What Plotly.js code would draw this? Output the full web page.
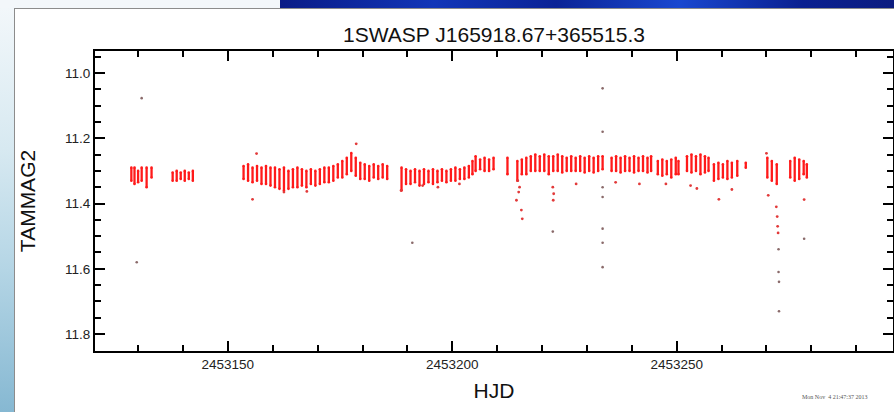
<!DOCTYPE html>
<html>
<head>
<meta charset="utf-8">
<script src="https://cdn.plot.ly/plotly-3.0.1.min.js"></script>
<style>
  html, body { margin: 0; padding: 0; width: 894px; height: 412px; overflow: hidden; background: #f3f7fa; }
  #topdark { position: absolute; left: 280px; top: 0; width: 614px; height: 8px;
    background: linear-gradient(90deg, #0a1c86 0%, #1236b8 25%, #0b2396 45%, #1a48d0 65%, #0a2090 85%, #0c1c80 100%); }
  #leftstrip { position: absolute; left: 0; top: 8px; width: 14px; height: 404px;
    background: linear-gradient(180deg, #f2f7fa 0%, #d7e9f1 35%, #b4d5e5 65%, #86b8d2 100%); }
  #panel { position: absolute; left: 14px; top: 8px; width: 890px; height: 410px; background: #fff;
    border-left: 1px solid #8c8c8c; border-top: 1px solid #8c8c8c; box-sizing: border-box; }
  #chart { position: absolute; left: 0; top: 0; width: 894px; height: 412px; }
</style>
</head>
<body>
<div id="topdark"></div>
<div id="leftstrip"></div>
<div id="panel"></div>
<div id="chart"></div>
<script>
// ---- nightly strands: HJD, brightest (top) and faintest (bottom) TAMMAG2 ----
const nightHJD = [
  2453128.5, 2453129.2, 2453130.0, 2453130.8, 2453131.9, 2453133.0,
  2453137.7, 2453138.6, 2453139.5, 2453140.4, 2453141.3, 2453142.2,
  2453153.5, 2453154.5, 2453155.5, 2453156.5, 2453157.5, 2453158.5, 2453159.5, 2453160.5,
  2453161.5, 2453162.5, 2453163.5, 2453164.5, 2453165.5, 2453166.5, 2453167.5, 2453168.5,
  2453169.5, 2453170.5, 2453171.5, 2453172.5, 2453173.5, 2453174.5, 2453175.5, 2453176.5,
  2453177.5, 2453178.5, 2453179.5, 2453180.5, 2453181.5, 2453182.5, 2453183.5, 2453184.5, 2453185.5,
  2453188.7, 2453189.7, 2453190.7, 2453191.7, 2453192.7, 2453193.7, 2453194.7, 2453195.7,
  2453196.7, 2453197.7, 2453198.7, 2453199.7, 2453200.7, 2453201.7, 2453202.7, 2453203.7, 2453204.5,
  2453205.2, 2453206.2, 2453207.2, 2453208.2, 2453209.2,
  2453212.3,
  2453214.5, 2453215.5, 2453216.5, 2453217.5, 2453218.5, 2453219.5, 2453220.5, 2453221.5,
  2453222.5, 2453223.5, 2453224.5, 2453225.5, 2453226.5, 2453227.5, 2453228.5, 2453229.5,
  2453230.5, 2453231.5, 2453232.5, 2453233.5,
  2453235.5, 2453236.5, 2453237.5, 2453238.5, 2453239.5, 2453240.5, 2453241.5, 2453242.5, 2453243.5, 2453244.3,
  2453245.8, 2453246.8, 2453247.8, 2453248.8, 2453249.8, 2453250.4,
  2453252.3, 2453253.3, 2453254.3, 2453255.3, 2453256.3, 2453257.1,
  2453258.3, 2453259.3, 2453260.3, 2453261.3, 2453262.3, 2453263.5,
  2453265.4,
  2453270.2, 2453271.2, 2453272.3,
  2453275.3, 2453276.3, 2453277.3, 2453278.3, 2453279.0
];
const nightMagTop = [
  11.29, 11.29, 11.30, 11.29, 11.29, 11.29,
  11.305, 11.30, 11.305, 11.30, 11.305, 11.30,
  11.285, 11.28, 11.29, 11.285, 11.29, 11.285, 11.29, 11.29,
  11.295, 11.29, 11.30, 11.295, 11.29, 11.295, 11.30, 11.295,
  11.30, 11.295, 11.29, 11.29, 11.285, 11.28, 11.27, 11.26,
  11.245, 11.26, 11.275, 11.28, 11.285, 11.28, 11.285, 11.28, 11.285,
  11.29, 11.295, 11.30, 11.295, 11.30, 11.295, 11.30, 11.295,
  11.30, 11.295, 11.30, 11.295, 11.29, 11.295, 11.29, 11.285, 11.27,
  11.255, 11.265, 11.26, 11.265, 11.26,
  11.26,
  11.27, 11.265, 11.26, 11.255, 11.25, 11.255, 11.25, 11.255,
  11.255, 11.25, 11.255, 11.26, 11.255, 11.26, 11.255, 11.26,
  11.255, 11.26, 11.255, 11.255,
  11.26, 11.255, 11.26, 11.255, 11.26, 11.255, 11.26, 11.255, 11.26, 11.255,
  11.27, 11.265, 11.27, 11.265, 11.26, 11.27,
  11.255, 11.25, 11.255, 11.25, 11.255, 11.26,
  11.28, 11.275, 11.28, 11.27, 11.275, 11.27,
  11.275,
  11.26, 11.27, 11.28,
  11.27, 11.26, 11.265, 11.27, 11.28
];
const nightMagBottom = [
  11.33, 11.34, 11.335, 11.33, 11.35, 11.32,
  11.33, 11.33, 11.325, 11.33, 11.325, 11.33,
  11.325, 11.33, 11.335, 11.33, 11.34, 11.34, 11.345, 11.35,
  11.355, 11.36, 11.355, 11.35, 11.35, 11.345, 11.35, 11.34,
  11.345, 11.34, 11.335, 11.335, 11.33, 11.32, 11.32, 11.31,
  11.30, 11.315, 11.325, 11.325, 11.33, 11.32, 11.325, 11.32, 11.325,
  11.36, 11.34, 11.34, 11.335, 11.345, 11.34, 11.335, 11.34,
  11.335, 11.33, 11.335, 11.33, 11.33, 11.325, 11.325, 11.32, 11.31,
  11.30, 11.295, 11.30, 11.30, 11.295,
  11.31,
  11.33, 11.31, 11.31, 11.30, 11.30, 11.30, 11.30, 11.31,
  11.30, 11.30, 11.305, 11.30, 11.30, 11.30, 11.30, 11.305,
  11.30, 11.305, 11.30, 11.295,
  11.30, 11.30, 11.305, 11.30, 11.30, 11.305, 11.30, 11.30, 11.305, 11.30,
  11.31, 11.315, 11.31, 11.32, 11.31, 11.31,
  11.30, 11.305, 11.30, 11.31, 11.305, 11.30,
  11.33, 11.325, 11.32, 11.325, 11.32, 11.315,
  11.29,
  11.32, 11.33, 11.34,
  11.32, 11.33, 11.325, 11.31, 11.32
];

// ---- scattered red points off the nightly strands ----
const redDotHJD = [
  2453156.4, 2453155.5, 2453162.5, 2453167.6, 2453178.6,
  2453188.6, 2453193.4, 2453196.8, 2453201.6,
  2453214.6, 2453215.0, 2453214.8, 2453214.3, 2453215.4, 2453215.6,
  2453222.4, 2453222.6, 2453222.5,
  2453227.6, 2453236.4, 2453241.7, 2453247.6,
  2453253.1, 2453254.5, 2453259.4, 2453262.3,
  2453270.0, 2453270.4, 2453272.2, 2453272.4, 2453272.5, 2453272.6,
  2453278.4
];
const redDotMag = [
  11.247, 11.387, 11.365, 11.363, 11.217,
  11.36, 11.345, 11.35, 11.34,
  11.33, 11.35, 11.365, 11.39, 11.42, 11.447,
  11.35, 11.37, 11.39,
  11.34, 11.335, 11.34, 11.34,
  11.345, 11.354, 11.387, 11.357,
  11.246, 11.375, 11.41, 11.44, 11.47, 11.49,
  11.388
];

// ---- isolated faint outliers ----
const greyDotHJD = [
  2453130.8, 2453129.7, 2453191.1,
  2453233.5, 2453233.5, 2453233.5, 2453233.5, 2453233.5, 2453233.5, 2453233.5,
  2453222.4,
  2453272.7, 2453272.7, 2453272.8, 2453272.8,
  2453278.4
];
const greyDotMag = [
  11.077, 11.58, 11.52,
  11.047, 11.18, 11.35, 11.38, 11.477, 11.52, 11.595,
  11.486,
  11.54, 11.61, 11.64, 11.73,
  11.508
];

const xTick0 = 2453150, xMajorStep = 50, xMinorStep = 10;
const yTick0 = 11.0, yMajorStep = 0.2, yMinorStep = 0.05;

// build strand polyline
const sx = [], sy = [];
for (let i = 0; i < nightHJD.length; i++) {
  sx.push(nightHJD[i], nightHJD[i], null);
  sy.push(nightMagTop[i], nightMagBottom[i], null);
}

const traces = [
  { x: sx, y: sy, type: 'scatter', mode: 'lines', connectgaps: false,
    line: { color: '#ff1a1a', width: 2.3 }, hoverinfo: 'skip', showlegend: false },
  { x: nightHJD.concat(nightHJD), y: nightMagTop.concat(nightMagBottom), type: 'scatter', mode: 'markers',
    marker: { color: '#ff1a1a', size: 2.6 }, showlegend: false },
  { x: redDotHJD, y: redDotMag, type: 'scatter', mode: 'markers',
    marker: { color: '#e23a3a', size: 2.8 }, showlegend: false },
  { x: greyDotHJD, y: greyDotMag, type: 'scatter', mode: 'markers',
    marker: { color: '#8a6a6a', size: 2.6 }, showlegend: false }
];

const axisFont = { family: 'Liberation Sans, Arial, sans-serif', size: 13.5, color: '#222' };
const titleFont = { family: 'Liberation Sans, Arial, sans-serif', size: 21, color: '#111' };

const layout = {
  width: 894, height: 412,
  margin: { l: 95, r: 1, t: 51, b: 61, pad: 0 },
  paper_bgcolor: 'rgba(0,0,0,0)',
  plot_bgcolor: 'rgba(0,0,0,0)',
  showlegend: false,
  title: { text: '1SWASP J165918.67+365515.3', font: titleFont,
    x: 0.5, xref: 'paper', xanchor: 'center', y: 1 - 35 / 412, yref: 'container', yanchor: 'middle' },
  xaxis: {
    range: [2453120.4, 2453298.2],
    tickmode: 'linear', tick0: xTick0, dtick: xMajorStep, tickformat: 'd',
    ticks: 'inside', ticklen: 10, tickwidth: 2, tickcolor: '#000',
    minor: { tick0: xTick0, dtick: xMinorStep, ticks: 'inside', ticklen: 6, tickwidth: 2, tickcolor: '#000' },
    showline: true, linecolor: '#000', linewidth: 2, mirror: 'ticks',
    showgrid: false, zeroline: false,
    tickfont: axisFont,
    title: { text: 'HJD', font: titleFont, standoff: 12 }
  },
  yaxis: {
    range: [11.852, 10.9325],
    tickmode: 'linear', tick0: yTick0, dtick: yMajorStep, tickformat: '.1f',
    ticks: 'inside', ticklen: 10, tickwidth: 2, tickcolor: '#000',
    minor: { tick0: yTick0, dtick: yMinorStep, ticks: 'inside', ticklen: 6, tickwidth: 2, tickcolor: '#000' },
    showline: true, linecolor: '#000', linewidth: 2, mirror: 'ticks',
    showgrid: false, zeroline: false,
    tickfont: axisFont,
    title: { text: 'TAMMAG2', font: titleFont, standoff: 24 }
  },
  annotations: [
    { text: 'Mon Nov  4 21:47:37 2013', xref: 'paper', yref: 'paper', x: 0.8835, y: -0.153,
      xanchor: 'left', yanchor: 'middle', showarrow: false,
      font: { family: 'Liberation Serif, serif', size: 6, color: '#555' } }
  ]
};

Plotly.newPlot('chart', traces, layout, { displayModeBar: false, staticPlot: true });
</script>
</body>
</html>
